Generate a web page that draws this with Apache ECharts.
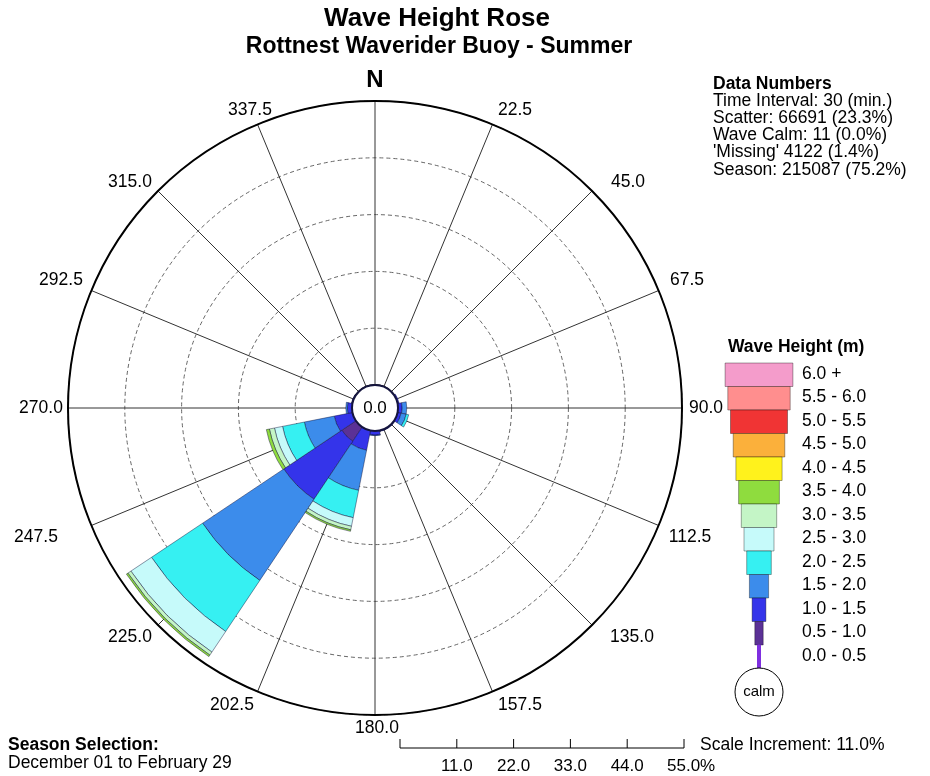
<!DOCTYPE html>
<html>
<head>
<meta charset="utf-8">
<script src="https://cdn.jsdelivr.net/npm/echarts@6/dist/echarts.min.js"></script>
<style>
  html, body { margin: 0; padding: 0; background: #ffffff; }
  #chart { width: 930px; height: 776px; }
</style>
</head>
<body>
<div id="chart"></div>
<script>
// Direction sectors (degrees from north, clockwise)
const directions = ['0.0', '22.5', '45.0', '67.5', '90.0', '112.5', '135.0', '157.5',
                    '180.0', '202.5', '225.0', '247.5', '270.0', '292.5', '315.0', '337.5'];
const compassLabels = ['N', '22.5', '45.0', '67.5', '90.0', '112.5', '135.0', '157.5',
                       '180.0', '202.5', '225.0', '247.5', '270.0', '292.5', '315.0', '337.5'];

// Wave height classes, lowest first
const heightBins = ['0.0 - 0.5', '0.5 - 1.0', '1.0 - 1.5', '1.5 - 2.0', '2.0 - 2.5', '2.5 - 3.0',
                    '3.0 - 3.5', '3.5 - 4.0', '4.0 - 4.5', '4.5 - 5.0', '5.0 - 5.5', '5.5 - 6.0', '6.0 +'];
const binColors = ['#7f2fe0', '#5b3196', '#3434ea', '#3c8ceb', '#36f0f2', '#c6fafa',
                   '#c4f5c6', '#8fdc3e', '#fff21c', '#fbb03b', '#f03434', '#ff8e8e', '#f49ccb'];

// Percentage of records per direction for each wave height class
const h00_05 = [0, 0, 0, 0,   0,   0,   0,   0,   0,   0,   0,    0,   0,   0,   0, 0];
const h05_10 = [0, 0, 0, 0,   0,   0,   0,   0,   0,   0,   3.3,  0,   0,   0,   0, 0];
const h10_15 = [0, 0, 0, 0.3, 0.8, 0.7, 0.2, 0.2, 0.8, 3.9, 13.5, 3.6, 0.9, 0.2, 0, 0];
const h15_20 = [0, 0, 0, 0,   0.9, 1.0, 0,   0,   0.1, 7.9, 18.9, 5.9, 0.3, 0,   0, 0];
const h20_25 = [0, 0, 0, 0,   0,   0.5, 0,   0,   0,   5.4, 11.9, 4.3, 0,   0,   0, 0];
const h25_30 = [0, 0, 0, 0,   0,   0,   0,   0,   0,   1.7, 4.8,  1.6, 0,   0,   0, 0];
const h30_35 = [0, 0, 0, 0,   0,   0,   0,   0,   0,   0.7, 0.7,  1.0, 0,   0,   0, 0];
const h35_40 = [0, 0, 0, 0,   0,   0,   0,   0,   0,   0.3, 0.35, 0.6, 0,   0,   0, 0];
const h40_45 = [0, 0, 0, 0,   0,   0,   0,   0,   0,   0,   0,    0,   0,   0,   0, 0];
const h45_50 = [0, 0, 0, 0,   0,   0,   0,   0,   0,   0,   0,    0,   0,   0,   0, 0];
const h50_55 = [0, 0, 0, 0,   0,   0,   0,   0,   0,   0,   0,    0,   0,   0,   0, 0];
const h55_60 = [0, 0, 0, 0,   0,   0,   0,   0,   0,   0,   0,    0,   0,   0,   0, 0];
const h60_up = [0, 0, 0, 0,   0,   0,   0,   0,   0,   0,   0,    0,   0,   0,   0, 0];
const binValues = [h00_05, h05_10, h10_15, h15_20, h20_25, h25_30, h30_35,
                   h35_40, h40_45, h45_50, h50_55, h55_60, h60_up];

// Radial scale (percent)
const scaleTicks = [0, 11, 22, 33, 44, 55];
const calmPercent = '0.0';

const dataNumbers = ['Time Interval: 30 (min.)', 'Scatter: 66691 (23.3%)', 'Wave Calm: 11 (0.0%)',
                     "'Missing' 4122 (1.4%)", 'Season: 215087 (75.2%)'];

// ---- layout ----
const FONT = 'Liberation Sans';
const CX = 375, CY = 408, R0 = 23, R1 = 307;
const pxPerPct = (R1 - R0) / scaleTicks[scaleTicks.length - 1];
// label centre offsets from the rose centre, one per compass direction
const labelOffsets = [[0, -328], [140, -298], [253, -226], [312, -128], [331, 0], [315, 129],
                      [257, 229], [145, 297], [2, 320], [-143, 297], [-245, 229], [-339, 129],
                      [-334, 0], [-314, -128], [-245, -226], [-125, -298]];

function txt(text, x, y, size, opts) {
  opts = opts || {};
  const align = opts.align || 'left';
  const valign = opts.valign || 'middle';
  return {
    type: 'text', x: x, y: y, z: 100,
    style: {
      text: text, fill: opts.color || '#000', fontSize: size, fontFamily: FONT,
      fontWeight: opts.bold ? 'bold' : 'normal',
      textAlign: align, align: align, textVerticalAlign: valign, verticalAlign: valign
    }
  };
}

const graphics = [];

// titles
graphics.push(txt('Wave Height Rose', 437, 19, 26, { bold: true, align: 'center' }));
graphics.push(txt('Rottnest Waverider Buoy - Summer', 439, 47, 23, { bold: true, align: 'center' }));

// compass labels around the rose
compassLabels.forEach(function (lab, i) {
  const off = labelOffsets[i];
  if (i === 0) {
    graphics.push(txt(lab, CX + off[0], CY + off[1], 24, { bold: true, align: 'center' }));
  } else {
    graphics.push(txt(lab, CX + off[0], CY + off[1], 17.5, { align: 'center' }));
  }
});

// calm circle in the middle of the rose
graphics.push({
  type: 'circle', z: 99, shape: { cx: CX, cy: CY, r: R0 },
  style: { fill: '#ffffff', stroke: '#15153e', lineWidth: 2 }
});
graphics.push(txt(calmPercent, CX, CY, 17, { align: 'center' }));

// data numbers block
graphics.push(txt('Data Numbers', 713, 84, 17.5, { bold: true }));
dataNumbers.forEach(function (line, i) {
  graphics.push(txt(line, 713, 101 + i * 17.2, 17.5));
});

// legend: tapered swatches, largest class on top
graphics.push(txt('Wave Height (m)', 728, 347, 17.5, { bold: true }));
const LX = 759, LTOP = 363, LROW = 23.5;
for (let k = heightBins.length - 1; k >= 0; k--) {
  const row = heightBins.length - 1 - k;
  const w = 3 + 5.4 * k;
  const y = LTOP + row * LROW;
  graphics.push({
    type: 'rect', z: 98,
    shape: { x: LX - w / 2, y: y, width: w, height: LROW },
    style: { fill: binColors[k], stroke: k === 0 ? binColors[k] : 'rgba(0,0,0,0.35)', lineWidth: 1 }
  });
  graphics.push(txt(heightBins[k], 802, y + LROW / 2 - 1, 17.5));
}
graphics.push({
  type: 'circle', z: 99, shape: { cx: LX, cy: 692, r: 24 },
  style: { fill: '#ffffff', stroke: '#000', lineWidth: 1 }
});
graphics.push(txt('calm', LX, 692, 15, { align: 'center' }));

// scale bar below the rose
const SX = 400, SY = 748;
graphics.push({
  type: 'line', z: 100, shape: { x1: SX, y1: SY, x2: SX + (R1 - R0), y2: SY },
  style: { stroke: '#000', lineWidth: 1 }
});
scaleTicks.forEach(function (t, i) {
  const x = SX + t * pxPerPct;
  graphics.push({
    type: 'line', z: 100, shape: { x1: x, y1: SY - 9, x2: x, y2: SY },
    style: { stroke: '#000', lineWidth: 1 }
  });
  if (i > 0) {
    const last = i === scaleTicks.length - 1;
    const label = t.toFixed(1) + (last ? '%' : '');
    graphics.push(txt(label, last ? x - 17 : x, 766, 17, { align: last ? 'left' : 'center' }));
  }
});
graphics.push(txt('Scale Increment: ' + scaleTicks[1].toFixed(1) + '%', 700, 745, 17.5));

// season text
graphics.push(txt('Season Selection:', 8, 745, 17.5, { bold: true }));
graphics.push(txt('December 01 to February 29', 8, 763, 17.5));

// ---- series ----
const series = binValues.map(function (vals, k) {
  return {
    type: 'bar', coordinateSystem: 'polar', polarIndex: 0, stack: 'rose',
    name: heightBins[k],
    data: vals.map(function (v) { return v > 0 ? v : '-'; }),
    barCategoryGap: '0%',
    itemStyle: { color: binColors[k], borderColor: 'rgba(10,10,50,0.55)', borderWidth: 0.8 },
    silent: true
  };
});

const chart = echarts.init(document.getElementById('chart'), null, { renderer: 'canvas' });
chart.setOption({
  backgroundColor: '#ffffff',
  animation: false,
  textStyle: { fontFamily: FONT },
  polar: [
    { center: [CX, CY], radius: [R0, R1] },
    { center: [CX, CY], radius: [R0, R1] }
  ],
  angleAxis: [
    {
      polarIndex: 0, type: 'category', data: directions, startAngle: 90 + 11.25, clockwise: true,
      axisLine: { show: false }, axisTick: { show: false }, axisLabel: { show: false },
      splitLine: { show: false }
    },
    {
      polarIndex: 1, type: 'category', data: directions, startAngle: 90, clockwise: true,
      axisLine: { show: true, lineStyle: { color: '#000', width: 2 } },
      axisTick: { show: false }, axisLabel: { show: false },
      splitLine: { show: true, lineStyle: { color: '#333', width: 1 } }
    }
  ],
  radiusAxis: [
    { polarIndex: 0, type: 'value', min: 0, max: 55, interval: 11, show: false },
    {
      polarIndex: 1, type: 'value', min: 0, max: 55, interval: 11,
      axisLine: { show: false }, axisTick: { show: false }, axisLabel: { show: false },
      splitLine: { show: true, lineStyle: { color: '#666', width: 1, type: [4, 3] } }
    }
  ],
  series: series,
  graphic: { elements: graphics }
});
</script>
</body>
</html>
